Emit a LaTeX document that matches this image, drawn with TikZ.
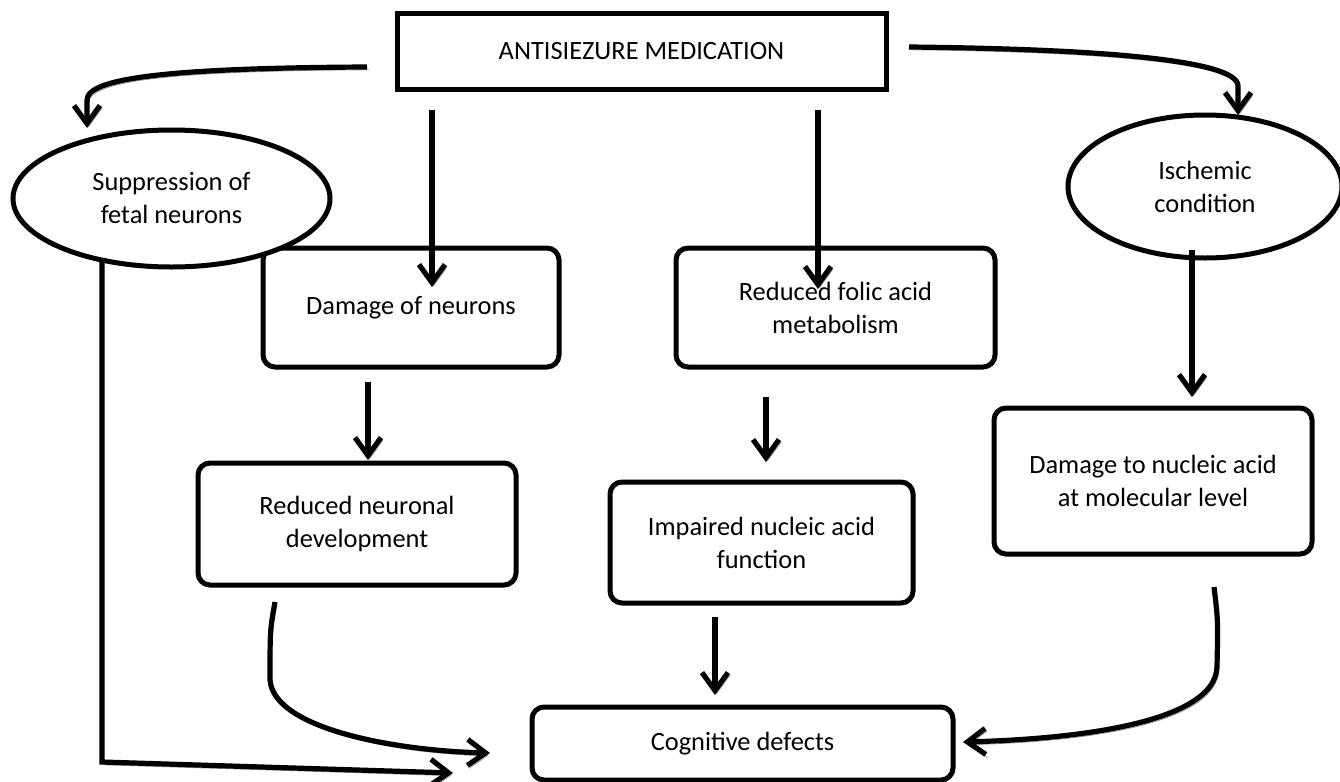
\documentclass[tikz,border=0pt]{standalone}
\usepackage{fontspec}
\setmainfont{Carlito}
\usetikzlibrary{shapes.geometric,arrows.meta}
\begin{document}
\begin{tikzpicture}[x=0.5pt,y=-0.5pt,
  txt/.style={font=\fontsize{13.2}{16.5}\selectfont,align=center},
  topbox/.style={txt,draw,line width=2.5pt,inner sep=0pt,fill=white},
  rbox/.style={txt,draw,line width=2.5pt,rounded corners=6pt,inner sep=0pt,fill=white},
  oval/.style={txt,draw,ellipse,line width=2.5pt,inner sep=0pt,fill=white},
  conn/.style={line width=2.6pt,-{Straight Barb[length=9pt,width=13pt,line width=2.6pt]},
    preaction={draw=black!40,transform canvas={shift={(0.9pt,-1.4pt)}}}}
]
\useasboundingbox (0,0) rectangle (1340,782);
% boxes
\node[topbox,minimum width=244.5pt,minimum height=38pt] (top) at (641.5,51) {ANTISIEZURE MEDICATION};
\node[rbox,minimum width=148pt,minimum height=59.5pt] (dmg) at (411,307.5) {Damage of neurons};
\node[rbox,minimum width=159.5pt,minimum height=59.5pt] (folic) at (835.5,307.5) {Reduced folic acid\\metabolism};
\node[rbox,minimum width=159pt,minimum height=61pt] (rnd) at (357,524) {Reduced neuronal\\development};
\node[rbox,minimum width=151.5pt,minimum height=60.5pt] (imp) at (761.5,542.5) {Impaired nucleic acid\\function};
\node[rbox,minimum width=159pt,minimum height=73pt] (dna) at (1153,481) {Damage to nucleic acid\\at molecular level};
\node[rbox,minimum width=210.5pt,minimum height=36.5pt] (cog) at (742.5,743.5) {Cognitive defects};
% ellipses
\node[oval,minimum width=158.5pt,minimum height=68.5pt] (sup) at (171.5,198.5) {Suppression of\\fetal neurons};
\node[oval,minimum width=137pt,minimum height=71.5pt] (isc) at (1205,186.5) {Ischemic\\condition};
% free ends
\coordinate (a1s) at (367,67);   \coordinate (a1e) at (87,128);
\coordinate (a2s) at (909,47);   \coordinate (a2e) at (1238,115);
\coordinate (a3s) at (432,110);  \coordinate (a3e) at (432,287);
\coordinate (a4s) at (818,110);  \coordinate (a4e) at (818,289);
\coordinate (a5s) at (368,382);  \coordinate (a5e) at (368,460);
\coordinate (a6s) at (766,397);  \coordinate (a6e) at (766,462);
\coordinate (a7s) at (715,617);  \coordinate (a7e) at (715,695);
\coordinate (a8s) at (1192,250); \coordinate (a8e) at (1192,397);
\coordinate (a9s) at (102,259);  \coordinate (a9c) at (102,762); \coordinate (a9e) at (453,773);
\coordinate (b1s) at (275,602);  \coordinate (b1e) at (490,753);
\coordinate (b2s) at (1214,587); \coordinate (b2e) at (963,742);
% connectors
\draw[conn] (a1s) .. controls (170,68) and (87,78) .. (87,100) -- (a1e);
\draw[conn] (a2s) .. controls (1100,49) and (1238,60) .. (1238,86) -- (a2e);
\draw[conn] (a3s) -- (a3e);
\draw[conn] (a4s) -- (a4e);
\draw[conn] (a5s) -- (a5e);
\draw[conn] (a6s) -- (a6e);
\draw[conn] (a7s) -- (a7e);
\draw[conn] (a8s) -- (a8e);
\draw[conn] (a9s) -- (a9c) -- (a9e);
\draw[conn] (b1s) .. controls (270,630) .. (270,680) .. controls (274,730) and (400,751) .. (b1e);
\draw[conn] (b2s) .. controls (1218,620) .. (1217,667) .. controls (1215,722) and (1080,739) .. (b2e);
\end{tikzpicture}
\end{document}
